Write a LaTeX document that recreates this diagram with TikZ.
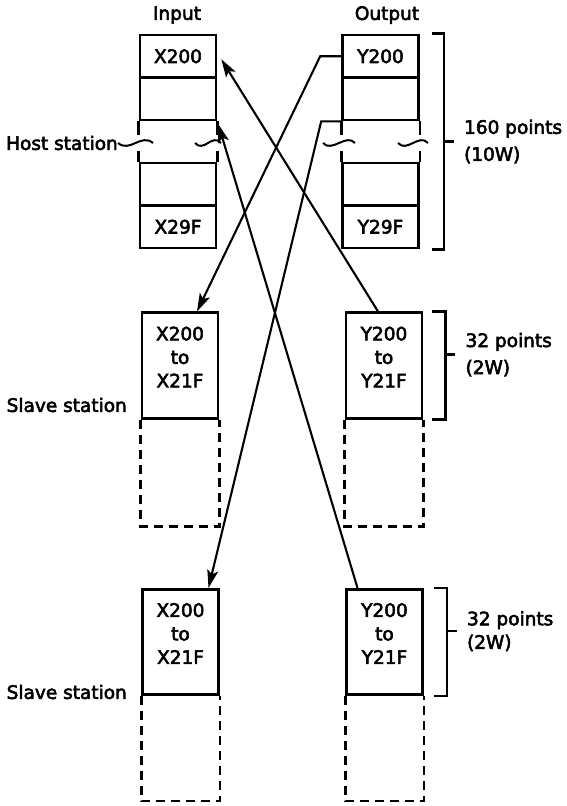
\documentclass[tikz,border=0pt]{standalone}
\usepackage{fontspec}
\setmainfont[FakeBold=3]{DejaVu Sans}
\usetikzlibrary{arrows.meta,calc,positioning}

\tikzset{
  cell/.style={draw, line width=2.6pt, minimum width=76pt, minimum height=42.5pt},
  slavecell/.style={cell, minimum height=105.5pt},
  dashcell/.style={line width=2.6pt, dash pattern=on 9pt off 6pt},
  side/.style={line width=2.6pt},
  wire/.style={line width=2.1pt, -{Stealth[length=18pt,width=11pt,inset=4pt]}},
  brace/.style={line width=2.6pt},
  wave/.style={line width=2pt}
}

\begin{document}
\begin{tikzpicture}[x=1pt, y=-1pt, every node/.style={font=\fontsize{18.5}{23.5}\selectfont, inner sep=0pt}]
  \useasboundingbox (0,0) rectangle (566,806);
  % headings
  \node (inhead) at (177,15) {Input};
  \node (outhead) at (387,15) {Output};

  % host station
  \node[cell] (hx1) at (178,56.25) {X200};
  \node[cell] (hx2) at (178,98.75) {};
  \node[cell] (hx3) at (178,184.25) {};
  \node[cell] (hx4) at (178,226.75) {X29F};
  \node[cell] (hy1) at (380.5,56.25) {Y200};
  \node[cell] (hy2) at (380.5,98.75) {};
  \node[cell] (hy3) at (380.5,184.25) {};
  \node[cell] (hy4) at (380.5,226.75) {Y29F};
  \foreach \c in {hx2,hy2}
    \draw[side] (\c.south west) -- ++(0,14) (\c.south east) -- ++(0,14);
  \foreach \c in {hx3,hy3}
    \draw[side] (\c.north west) -- ++(0,-11) (\c.north east) -- ++(0,-11);
  \node[anchor=east] (hoststn) at (118,143) {Host station};
  \draw[wave] (hoststn.east) .. controls +(12,10) and +(-12,-10) .. (153,143);
  \foreach \xa/\xb in {195/221,323/355,398/428}
    \draw[wave] (\xa,143) .. controls +(9,10) and +(-9,-10) .. (\xb,143);
  \draw[brace] ([xshift=12pt]hy1.north east) -- ++(12,0) |- ([xshift=12pt]hy4.south east);
  \draw[brace] ($(hy1.north east)!0.5!(hy4.south east)+(24,0)$) -- ++(10,0)
    node[right=9pt, align=left] {160 points\\[3.5pt](10W)};

  % slave station 1
  \node[slavecell] (s1in) at (180,365.5) {};
  \node[slavecell] (s1out) at (384,365.5) {};
  \node[below=15pt of s1in.north, align=center] {X200\\to\\X21F};
  \node[below=15pt of s1out.north, align=center] {Y200\\to\\Y21F};
  \draw[dashcell] (s1in.south west) -- ++(0,107) -| (s1in.south east);
  \draw[dashcell] (s1out.south west) -- ++(0,107) -| (s1out.south east);
  \node[anchor=east] (slv1) at (127,405) {Slave station};
  \draw[brace] ([xshift=9pt]s1out.north east) -- ++(13,0) |- ([xshift=9pt]s1out.south east);
  \draw[brace] ($(s1out.north east)!0.4!(s1out.south east)+(22,0)$) -- ++(10,0)
    node[right=9pt, align=left] {32 points\\[3.5pt](2W)};

  % slave station 2
  \node[slavecell] (s2in) at (180.5,642) {};
  \node[slavecell] (s2out) at (384.5,642) {};
  \node[below=15pt of s2in.north, align=center] {X200\\to\\X21F};
  \node[below=15pt of s2out.north, align=center] {Y200\\to\\Y21F};
  \draw[dashcell] (s2in.south west) -- ++(0,105) -| (s2in.south east);
  \draw[dashcell] (s2out.south west) -- ++(0,105) -| (s2out.south east);
  \node[anchor=east] (slv2) at (127,692) {Slave station};
  \draw[brace] ([xshift=10pt]s2out.north east) -- ++(13,0) |- ([xshift=10pt]s2out.south east);
  \draw[brace] ($(s2out.north east)!0.4!(s2out.south east)+(23,0)$) -- ++(10,0)
    node[right=9pt, align=left] {32 points\\[0pt](2W)};

  % refresh links
  \draw[wire] ([xshift=-6pt]s1out.north) -- ([xshift=4pt,yshift=-3pt]hx1.east);
  \draw[wire] ([xshift=-27pt]s2out.north) -- ([xshift=1pt,yshift=-3pt]hx2.south east);
  \draw[wire] (hy1.west) -- ++(-21,0) -- ([xshift=17pt]s1in.north);
  \draw[wire] (hy2.south west) -- ++(-20,0) -- ([xshift=28pt]s2in.north);
\end{tikzpicture}
\end{document}
